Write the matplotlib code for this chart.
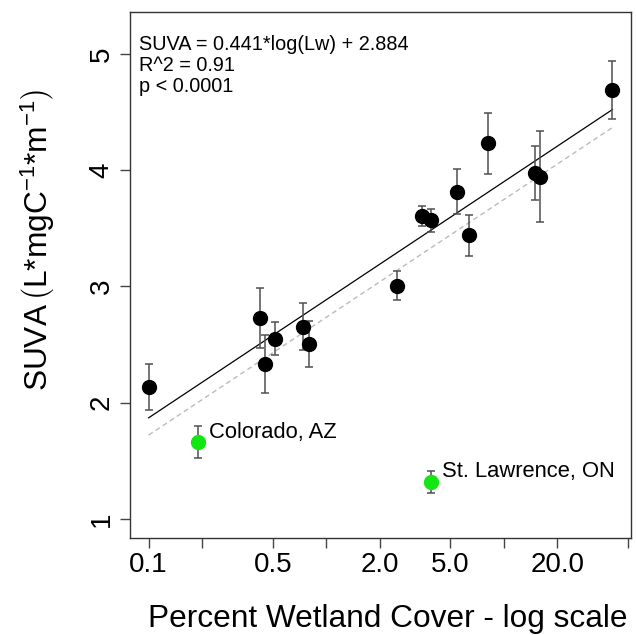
import numpy as np
import matplotlib
matplotlib.use("Agg")
import matplotlib.pyplot as plt

plt.rcParams['font.family'] = ['Liberation Sans', 'DejaVu Sans']
plt.rcParams['mathtext.fontset'] = 'custom'
plt.rcParams['mathtext.rm'] = 'Liberation Sans'
plt.rcParams['mathtext.it'] = 'Liberation Sans:italic'
plt.rcParams['mathtext.bf'] = 'Liberation Sans:bold'

# catchments used in the fit
wetland = [0.1, 0.423, 0.453, 0.516, 0.736, 0.804, 2.49, 3.48, 3.88, 5.42, 6.37, 8.18, 15.0, 15.9, 40.9]
suva = [2.136, 2.728, 2.33, 2.55, 2.653, 2.502, 3.005, 3.606, 3.567, 3.815, 3.438, 4.23, 3.975, 3.944, 4.688]
suva_err = [0.2, 0.26, 0.25, 0.14, 0.2, 0.2, 0.125, 0.085, 0.1, 0.195, 0.175, 0.265, 0.23, 0.39, 0.25]

# outliers (not in the fit)
out_names = ["Colorado, AZ", "St. Lawrence, ON"]
out_wetland = [0.189, 3.90]
out_suva = [1.661, 1.32]
out_err = [0.14, 0.095]

# fit coefficients (natural log)
slope, intercept = 0.441, 2.884
slope2, intercept2 = 0.44, 2.733

xticks = [0.1, 0.2, 0.5, 1.0, 2.0, 5.0, 10.0, 20.0, 50.0]
xticklabels = ["0.1", "", "0.5", "", "2.0", "5.0", "", "20.0", ""]
yticks = [1, 2, 3, 4, 5]

fig = plt.figure(figsize=(6.36, 6.35), dpi=100)
ax = fig.add_axes([130/636, 1 - 538/635, 501/636, 526/635])

xs = np.linspace(min(wetland), max(wetland), 100)
ax.plot(xs, slope2*np.log(xs) + intercept2, color='#bbbbbb', lw=1.0, dashes=(3.6, 2.5), zorder=1)
ax.plot(xs, slope*np.log(xs) + intercept, color='black', lw=0.9, zorder=2)

ax.errorbar(wetland, suva, yerr=suva_err, fmt='o', color='black', ms=10,
            ecolor='#505050', elinewidth=1.1, capsize=3, capthick=1.1, zorder=3)
ax.errorbar(out_wetland, out_suva, yerr=out_err, fmt='o', color='#14e614', ms=10,
            ecolor='#505050', elinewidth=1.1, capsize=3, capthick=1.1, zorder=3)

for name, x, y in zip(out_names, out_wetland, out_suva):
    ax.annotate(name, (x, y), xytext=(8, 3.2), textcoords='offset points',
                fontsize=15.8, va='baseline', ha='left')

ax.text(0.017, 0.957, "SUVA = 0.441*log(Lw) + 2.884\nR^2 = 0.91\np < 0.0001",
        transform=ax.transAxes, fontsize=14.3, va='top', ha='left', linespacing=1.15)

ax.set_xscale('log')
ax.set_xlim(0.0786, 52.06)
ax.set_ylim(0.835, 5.36)
ax.set_xticks(xticks)
ax.set_xticklabels(xticklabels)
ax.xaxis.set_minor_locator(matplotlib.ticker.NullLocator())
ax.set_yticks(yticks)
ax.set_yticklabels([str(v) for v in yticks], rotation=90, va='center')

for s in ax.spines.values():
    s.set_color('#333333')
    s.set_linewidth(1.0)
ax.tick_params(axis='both', direction='out', length=7.2, width=1.0, color='#444444', labelsize=20)
ax.tick_params(axis='x', pad=3)
ax.tick_params(axis='y', pad=4)

fig.text(388/636, 8/635, "Percent Wetland Cover - log scale", fontsize=22.8,
         ha='center', va='baseline')
fig.text(38/636, 1 - 240/635, r'SUVA$\,\left(\mathrm{L{*}mgC^{-1}{*}m^{-1}}\right)$',
         fontsize=22.8, rotation=90, ha='center', va='center')

fig.savefig("out.png", dpi=100)
plt.close(fig)
